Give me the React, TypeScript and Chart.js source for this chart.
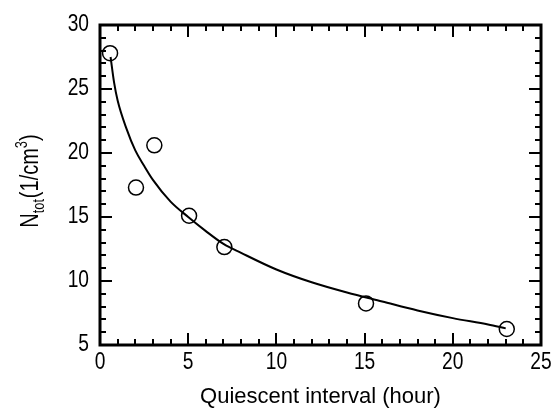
import React, { useEffect, useRef } from "react";
import { Chart, registerables } from "chart.js";
Chart.register(...registerables);

// Measured points (hour, 1/cm^3)
const pointX = [0.57, 2.04, 3.08, 5.05, 7.05, 15.08, 23.06];
const pointY = [27.8, 17.3, 20.6, 15.1, 12.65, 8.25, 6.25];

// Fitted curve
const curveX = [0.6, 0.8, 1, 1.5, 2, 2.5, 3, 4, 5, 6, 7, 8, 10, 12, 14, 16, 18, 20, 22, 23];
const curveY = [27.5, 25.5, 24.1, 21.9, 20.2, 19.0, 17.9, 16.2, 15.0, 13.9, 12.9, 12.2, 10.9, 9.9, 9.1, 8.4, 7.7, 7.1, 6.6, 6.3];

const xTitle = "Quiescent interval (hour)";
const yTitleMain = "N";
const yTitleSub = "tot";
const yTitleMid = "(1/cm";
const yTitleSup = "3";
const yTitleEnd = ")";

const REGULAR = "'Liberation Sans', Arial, Helvetica, sans-serif";
const NARROW_SCALE = 0.8;

const framePlugin = {
  id: "framePlugin",
  afterDatasetsDraw(chart: any) {
    const { ctx, chartArea, scales } = chart;
    const { left, right, top, bottom } = chartArea;
    const xs = scales.x;
    const ys = scales.y;
    ctx.save();
    ctx.strokeStyle = "#000";
    ctx.lineWidth = 2;
    ctx.lineCap = "butt";
    ctx.beginPath();
    for (let v = 1; v < 25; v++) {
      const p = Math.round(xs.getPixelForValue(v));
      const len = v % 5 === 0 ? 12 : 6;
      ctx.moveTo(p, bottom);
      ctx.lineTo(p, bottom - len);
      ctx.moveTo(p, top);
      ctx.lineTo(p, top + len);
    }
    for (let v = 6; v < 30; v++) {
      const p = Math.round(ys.getPixelForValue(v));
      const len = v % 5 === 0 ? 12 : 6;
      ctx.moveTo(left, p);
      ctx.lineTo(left + len, p);
      ctx.moveTo(right, p);
      ctx.lineTo(right - len, p);
    }
    ctx.stroke();
    ctx.lineWidth = 3;
    ctx.strokeRect(left, top, right - left, bottom - top);

    ctx.fillStyle = "#000";
    // tick labels (narrow look)
    ctx.font = `24px ${REGULAR}`;
    ctx.textBaseline = "alphabetic";
    ctx.textAlign = "center";
    for (const t of xs.ticks) {
      const px = xs.getPixelForValue(t.value);
      ctx.save();
      ctx.translate(px, 369);
      ctx.scale(NARROW_SCALE, 1);
      ctx.fillText(String(t.value), 0, 0);
      ctx.restore();
    }
    ctx.textAlign = "right";
    for (const t of ys.ticks) {
      const py = ys.getPixelForValue(t.value);
      ctx.save();
      ctx.translate(89, py + 6);
      ctx.scale(NARROW_SCALE, 1);
      ctx.fillText(String(t.value), 0, 0);
      ctx.restore();
    }

    // x title
    ctx.font = `22px ${REGULAR}`;
    ctx.textAlign = "center";
    ctx.fillText(xTitle, (left + right) / 2, 403);

    // y title with sub/superscripts
    const mainFont = `25px ${REGULAR}`;
    const smallFont = `16px ${REGULAR}`;
    ctx.font = mainFont;
    const wN = ctx.measureText(yTitleMain).width;
    const wMid = ctx.measureText(yTitleMid).width;
    const wEnd = ctx.measureText(yTitleEnd).width;
    ctx.font = smallFont;
    const wSub = ctx.measureText(yTitleSub).width;
    const wSup = ctx.measureText(yTitleSup).width;
    const total = wN + wSub + wMid + wSup + wEnd + 1;
    ctx.translate(38, (top + bottom) / 2 - 4);
    ctx.rotate(-Math.PI / 2);
    ctx.scale(NARROW_SCALE, 1);
    ctx.textAlign = "left";
    let x = -total / 2;
    ctx.font = mainFont;
    ctx.fillText(yTitleMain, x, 0);
    x += wN;
    ctx.font = smallFont;
    ctx.fillText(yTitleSub, x, 6);
    x += wSub + 1;
    ctx.font = mainFont;
    ctx.fillText(yTitleMid, x, 0);
    x += wMid;
    ctx.font = smallFont;
    ctx.fillText(yTitleSup, x, -11);
    x += wSup;
    ctx.font = mainFont;
    ctx.fillText(yTitleEnd, x, 0);
    ctx.restore();
  },
};

export default function App() {
  const ref = useRef<HTMLCanvasElement | null>(null);
  useEffect(() => {
    document.body.style.margin = "0";
    const canvas = ref.current;
    if (!canvas) return;
    const chart = new Chart(canvas, {
      type: "scatter",
      data: {
        datasets: [
          {
            type: "line",
            data: curveX.map((x, i) => ({ x, y: curveY[i] })),
            borderColor: "#000",
            borderWidth: 2,
            pointRadius: 0,
            fill: false,
            cubicInterpolationMode: "monotone",
          } as any,
          {
            type: "scatter",
            data: pointX.map((x, i) => ({ x, y: pointY[i] })),
            pointStyle: "circle",
            pointRadius: 7.5,
            backgroundColor: "rgba(0,0,0,0)",
            borderColor: "#000",
            borderWidth: 1.5,
          } as any,
        ],
      },
      options: {
        animation: false,
        responsive: false,
        maintainAspectRatio: false,
        layout: { padding: { left: 0, right: 17, top: 25, bottom: 0 } },
        plugins: { legend: { display: false }, tooltip: { enabled: false }, title: { display: false } },
        scales: {
          x: {
            type: "linear",
            min: 0,
            max: 25,
            grid: { display: false, drawTicks: false },
            border: { display: false },
            ticks: { stepSize: 5, display: false },
            afterFit: (s: any) => { s.height = 63; },
          },
          y: {
            type: "linear",
            min: 5,
            max: 30,
            grid: { display: false, drawTicks: false },
            border: { display: false },
            ticks: { stepSize: 5, display: false },
            afterFit: (s: any) => { s.width = 100; },
          },
        },
      },
      plugins: [framePlugin],
    });
    return () => chart.destroy();
  }, []);
  return (
    <div style={{ width: 558, height: 408 }}>
      <canvas ref={ref} width={558} height={408} style={{ display: "block" }} />
    </div>
  );
}
